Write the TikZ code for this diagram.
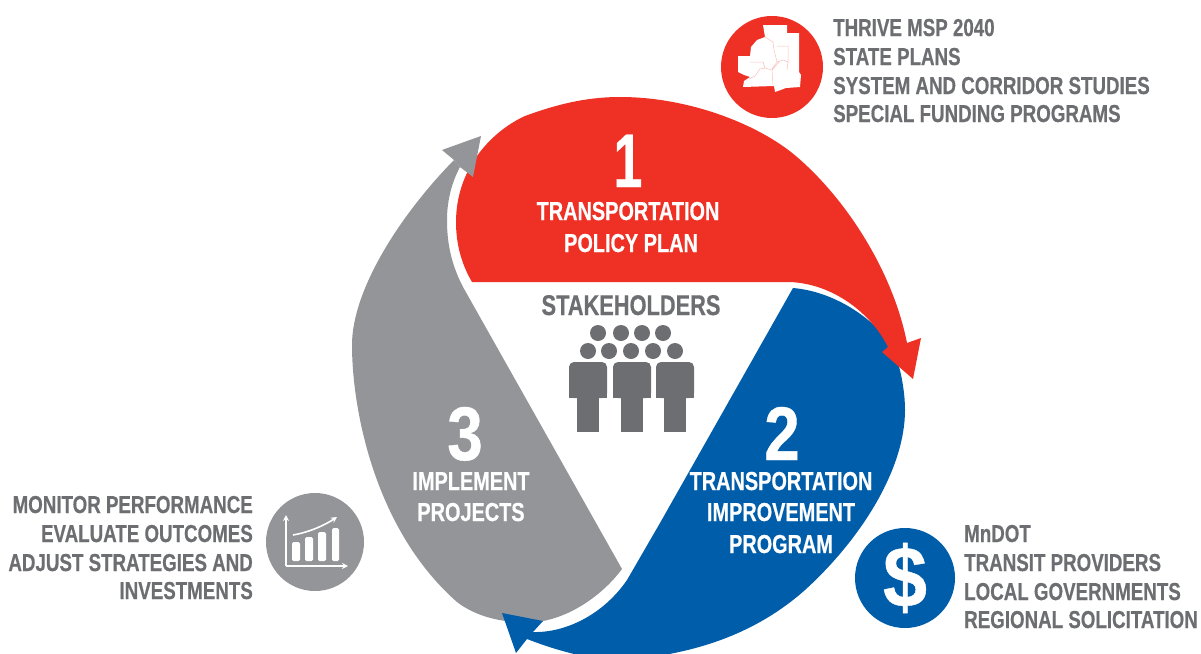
\documentclass[tikz,border=0pt]{standalone}
\usepackage{fontspec}
\setmainfont{Liberation Sans}
\newfontfamily\cond[FakeStretch=0.765,BoldFeatures={FakeBold=0.5}]{Liberation Sans}
\newfontfamily\condn[FakeStretch=0.84,BoldFeatures={FakeBold=0.5}]{Liberation Sans}
\newfontfamily\condd[FakeStretch=0.92,BoldFeatures={FakeBold=0.5}]{Liberation Sans}
\newfontfamily\condo[FakeStretch=0.68,BoldFeatures={FakeBold=0.5}]{Liberation Sans}
\definecolor{cred}{HTML}{EE3124}
\definecolor{cblue}{HTML}{005DAA}
\definecolor{cgray}{HTML}{939598}
\definecolor{ctext}{HTML}{6D6E71}
\usetikzlibrary{arrows.meta}
\tikzset{
 lab/.style={font=\cond\bfseries\fontsize{24.5}{28}\selectfont,text=ctext,inner sep=0pt,anchor=base west},
 labr/.style={lab,anchor=base east},
 wlab/.style={font=\cond\bfseries\fontsize{26}{28}\selectfont,text=white,inner sep=0pt,anchor=base},
 num/.style={font=\condn\bfseries\fontsize{76}{76}\selectfont,text=white,inner sep=0pt,anchor=base},
 icon/.style={line width=1.6pt,draw=white,-{Stealth[length=6pt,width=6pt]}},
}
\begin{document}
\begin{tikzpicture}[x=1pt,y=-1pt]
\useasboundingbox (0,0) rectangle (1201,653);
\clip (0,0) rectangle (1201,653);
% gray
\fill[cgray] (454,160) .. controls (400,215) and (352,290) .. (352,345)
 .. controls (352,410) and (375,530) .. (457,602)
 .. controls (480,620) and (515,625) .. (543,621)
 .. controls (575,615) and (605,592) .. (622,569)
 -- (463,287) .. controls (450,262) and (447,240) .. (447,220)
 .. controls (447,200) and (452,182) .. (460,167) -- cycle;
% blue
\fill[cblue] (793,288) .. controls (840,292) and (880,325) .. (893,348)
 .. controls (900,365) and (905,390) .. (905,410)
 .. controls (905,470) and (860,540) .. (805,590)
 .. controls (760,630) and (700,655) .. (620,660)
 .. controls (590,660) and (555,650) .. (527,639)
 -- (516,653) -- (502,613) -- (543,621) -- (533,632)
 .. controls (565,633) and (603,615) .. (627,580) -- (660,523) -- cycle;
% red
\fill[cred] (472,282) -- (790,282) .. controls (835,284) and (872,315) .. (888,347)
 -- (882,352) -- (913,379) -- (921,338) -- (907,343)
 .. controls (893,272) and (847,200) .. (797,157)
 .. controls (760,125) and (690,97) .. (620,97)
 .. controls (585,97) and (555,105) .. (525,116)
 .. controls (490,132) and (456,170) .. (456,222)
 .. controls (456,245) and (462,265) .. (472,282) -- cycle;
% gray arrow head on top
\fill[cgray] (460,167) -- (473,177) -- (481,136) -- (442,150) -- (454,160) -- cycle;
% circles
\fill[cred] (772,67) circle (51);
\fill[cblue] (905,578) circle (50);
\fill[cgray] (315,542) circle (49);
% map
\fill[white] (763,25) -- (787,25) -- (787,33) -- (799,33) -- (799,72) -- (801,75) -- (800,87) -- (786,88) -- (775,92) -- (774,86) -- (743,87) -- (744,81) -- (750,77) -- (744,75) -- (738,72) -- (738,56) -- (750,56) -- (751,47) -- (757,40) -- (765,37) -- cycle;
\draw[cred!30,line width=.5pt] (765,37) -- (773,42) -- (774,50) -- (777,62) -- (772,69) (750,62) -- (763,62) -- (765,68) (777,46) -- (788,46) -- (788,62) -- (783,60) -- (777,62) (788,62) -- (787,70) (772,70) -- (765,68) -- (760,69) -- (755,76) -- (749,79) (772,70) -- (773,85) (772,70) -- (779,62) (765,68)--(772,70);
% chart icon
\draw[icon] (286,566) -- (286,515);
\draw[icon] (286,566) -- (348,566);
\draw[icon] (293,535) .. controls (310,532) and (325,525) .. (337,517);
\foreach \xa/\xb/\yt in {292/300/542, 305/313/537, 318/326/532, 332/339/528}
  \fill[white,rounded corners=1.5pt] (\xa,\yt) rectangle (\xb,561);
% people
\foreach \x in {598,621,642,663} \fill[ctext] (\x,333) circle (8);
\foreach \x in {588,609,631,653,675} \fill[ctext] (\x,351) circle (8);
\foreach \x in {588,632,675} {
  \fill[ctext,rounded corners=5pt] (\x-19,398) -- (\x-19,362) -- (\x+19,362) -- (\x+19,398) -- cycle;
  \fill[ctext] (\x-19,390) rectangle (\x+19,398);
  \fill[ctext] (\x-11,395) rectangle (\x+11,432);
}
% texts
\node[num,font=\condo\bfseries\fontsize{76}{76}\selectfont] (n1) at (628,187) {1};
\node[num] (n2) at (782,460) {2};
\node[num] (n3) at (465,460) {3};
\node[wlab] (t1a) at (628,220) {TRANSPORTATION};
\node[wlab] (t1b) at (631,252) {POLICY PLAN};
\node[wlab] (t2a) at (781,490) {TRANSPORTATION};
\node[wlab] (t2b) at (781,521) {IMPROVEMENT};
\node[wlab] (t2c) at (781,553) {PROGRAM};
\node[wlab] (t3a) at (471,490) {IMPLEMENT};
\node[wlab] (t3b) at (471,521) {PROJECTS};
\node[lab,anchor=base,font=\cond\bfseries\fontsize{28.5}{30}\selectfont] (st) at (631,315) {STAKEHOLDERS};
\node[font=\condd\bfseries\fontsize{86}{86}\selectfont,text=white,inner sep=0pt] (dol) at (905,578) {\$};
\node[lab] (a1) at (833,36) {THRIVE MSP 2040};
\node[lab] (a2) at (833,65) {STATE PLANS};
\node[lab] (a3) at (833,94) {SYSTEM AND CORRIDOR STUDIES};
\node[lab] (a4) at (833,122) {SPECIAL FUNDING PROGRAMS};
\node[lab] (b1) at (964,542) {MnDOT};
\node[lab] (b2) at (964,571) {TRANSIT PROVIDERS};
\node[lab] (b3) at (964,600) {LOCAL GOVERNMENTS};
\node[lab] (b4) at (964,628) {REGIONAL SOLICITATION};
\node[labr] (c1) at (253,513) {MONITOR PERFORMANCE};
\node[labr] (c2) at (253,542) {EVALUATE OUTCOMES};
\node[labr] (c3) at (253,571) {ADJUST STRATEGIES AND};
\node[labr] (c4) at (253,599) {INVESTMENTS};
\end{tikzpicture}
\end{document}
